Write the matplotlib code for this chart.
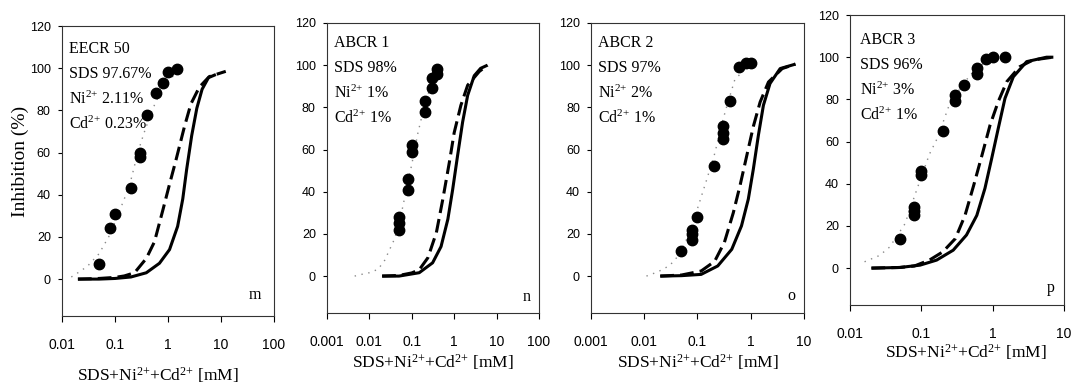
import matplotlib.pyplot as plt

plt.rcParams["font.family"] = ["Liberation Serif", "DejaVu Serif"]
plt.rcParams["mathtext.default"] = "regular"

# -----------------------------
# Data
# -----------------------------
# panel m (EECR 50)
m_pts_x = [0.05, 0.08, 0.1, 0.2, 0.3, 0.3, 0.4, 0.6, 0.8, 1.0, 1.5]
m_pts_y = [7, 24, 31, 43, 58, 60, 78, 88, 93, 98, 99.5]
m_dot_x = [0.015, 0.02, 0.03, 0.05, 0.08, 0.1, 0.15, 0.2, 0.27, 0.35, 0.5, 0.7, 1.0, 1.5]
m_dot_y = [1, 3, 6, 12, 21, 27, 38, 47, 60, 69, 80, 88, 94, 98]
m_sol_x = [0.02, 0.05, 0.1, 0.2, 0.39, 0.69, 1.07, 1.52, 1.9, 2.25, 2.8, 3.5, 4.4, 5.8, 8]
m_sol_y = [0, 0, 0.3, 1, 3, 7.5, 14, 25, 38, 52, 68, 81, 90, 95.5, 97]
m_das_x = [0.02, 0.05, 0.1, 0.15, 0.234, 0.39, 0.556, 0.8, 1.07, 1.4, 2.03, 2.7, 3.9, 6, 12.3]
m_das_y = [0, 0.3, 0.8, 1.5, 3, 9.8, 17.7, 32.7, 45, 56, 72, 83, 91, 96, 98.5]

# panel n (ABCR 1)
n_pts_x = [0.05, 0.05, 0.05, 0.08, 0.08, 0.1, 0.1, 0.2, 0.2, 0.3, 0.3, 0.4, 0.4]
n_pts_y = [22, 25, 28, 41, 46, 59, 62, 78, 83, 89, 94, 96, 98]
n_dot_x = [0.0045, 0.0065, 0.01, 0.016, 0.023, 0.04, 0.06, 0.1, 0.14, 0.2, 0.3, 0.45]
n_dot_y = [0, 0.8, 1.6, 3.2, 7.5, 18, 32, 53, 68, 81, 92, 97]
n_sol_x = [0.02, 0.05, 0.15, 0.31, 0.49, 0.71, 0.92, 1.2, 1.58, 2.08, 2.97, 4.2, 6.1]
n_sol_y = [0, 0, 1.6, 6.3, 14, 27, 41, 57, 73, 85.7, 95, 98.5, 100]
n_das_x = [0.02, 0.05, 0.1, 0.15, 0.24, 0.38, 0.54, 0.77, 1.0, 1.44, 2.08, 3.9, 6.1]
n_das_y = [0, 0.3, 1.5, 3, 8.7, 20.6, 36.5, 54, 68, 81, 90.5, 97, 100]

# panel o (ABCR 2)
o_pts_x = [0.05, 0.08, 0.08, 0.08, 0.1, 0.2, 0.3, 0.3, 0.3, 0.4, 0.6, 0.8, 1.0]
o_pts_y = [12, 17, 20, 22, 28, 52, 65, 68, 71, 83, 99, 101, 101]
o_dot_x = [0.011, 0.018, 0.03, 0.045, 0.07, 0.1, 0.15, 0.21, 0.3, 0.35, 0.5, 0.7]
o_dot_y = [0, 2, 5, 10, 20, 32, 46, 58, 74, 80, 93, 97]
o_sol_x = [0.02, 0.05, 0.117, 0.24, 0.44, 0.67, 0.9, 1.12, 1.39, 1.73, 2.3, 3.57, 6.9]
o_sol_y = [0, 0.2, 0.8, 4.8, 12.7, 23.8, 36.5, 50.8, 66.7, 81, 91.3, 98.4, 100.5]
o_das_x = [0.02, 0.05, 0.117, 0.21, 0.32, 0.47, 0.63, 0.84, 1.12, 1.5, 2.15, 3.9, 6.9]
o_das_y = [0, 0.5, 2.4, 7, 16, 30, 43, 57, 71, 82.5, 92, 98.4, 100.5]

# panel p (ABCR 3)
p_pts_x = [0.05, 0.08, 0.08, 0.08, 0.1, 0.1, 0.2, 0.3, 0.3, 0.4, 0.6, 0.6, 0.8, 1.0, 1.5]
p_pts_y = [14, 25, 27, 29, 44, 46, 65, 79, 82, 87, 92, 95, 99, 100, 100]
p_dot_x = [0.016, 0.026, 0.036, 0.059, 0.086, 0.13, 0.17, 0.25, 0.4, 0.56, 0.75]
p_dot_y = [3, 6, 10, 21, 37, 54, 62, 78, 88, 94, 97]
p_sol_x = [0.02, 0.05, 0.096, 0.164, 0.28, 0.43, 0.6, 0.78, 0.97, 1.2, 1.49, 1.95, 3.0, 5.7, 7.1]
p_sol_y = [0, 0.3, 1.4, 3.8, 8.5, 15.7, 25, 37.8, 52, 66.3, 80.5, 90.7, 97.9, 100, 100]
p_das_x = [0.02, 0.05, 0.08, 0.13, 0.2, 0.3, 0.41, 0.54, 0.71, 0.92, 1.2, 1.58, 2.4, 3.7, 7]
p_das_y = [0, 0.3, 1, 3.8, 7.7, 14, 25, 39, 53.6, 67.8, 79, 88.4, 95.5, 98.7, 100]

notes_m = ["EECR 50", "SDS 97.67%", "Ni$^{2{+}}$ 2.11%", "Cd$^{2{+}}$ 0.23%"]
notes_n = ["ABCR 1", "SDS 98%", "Ni$^{2{+}}$ 1%", "Cd$^{2{+}}$ 1%"]
notes_o = ["ABCR 2", "SDS 97%", "Ni$^{2{+}}$ 2%", "Cd$^{2{+}}$ 1%"]
notes_p = ["ABCR 3", "SDS 96%", "Ni$^{2{+}}$ 3%", "Cd$^{2{+}}$ 1%"]

xlabel = "SDS+Ni$^{2{+}}$+Cd$^{2{+}}$ [mM]"

panels = [
    # rect, xlim, data, notes, letter, note pos, letter pos, xlabel pos
    ([0.0578, 0.1918, 0.1978, 0.7417], (0.01, 100),
     (m_pts_x, m_pts_y, m_dot_x, m_dot_y, m_sol_x, m_sol_y, m_das_x, m_das_y),
     notes_m, "m", (0.035, 0.921), (0.91, 0.072), (0.45, -0.203)),
    ([0.3050, 0.1995, 0.1978, 0.7417], (0.001, 100),
     (n_pts_x, n_pts_y, n_dot_x, n_dot_y, n_sol_x, n_sol_y, n_das_x, n_das_y),
     notes_n, "n", (0.033, 0.931), (0.94, 0.056), (0.50, -0.169)),
    ([0.5513, 0.1995, 0.1987, 0.7417], (0.001, 10),
     (o_pts_x, o_pts_y, o_dot_x, o_dot_y, o_sol_x, o_sol_y, o_das_x, o_das_y),
     notes_o, "o", (0.033, 0.931), (0.94, 0.059), (0.50, -0.169)),
    ([0.7929, 0.2199, 0.1996, 0.7417], (0.01, 10),
     (p_pts_x, p_pts_y, p_dot_x, p_dot_y, p_sol_x, p_sol_y, p_das_x, p_das_y),
     notes_p, "p", (0.047, 0.914), (0.94, 0.058), (0.54, -0.162)),
]

fig = plt.figure(figsize=(10.72, 3.91), dpi=100)

for i, (rect, xlim, data, notes, letter, npos, lpos, xlpos) in enumerate(panels):
    ax = fig.add_axes(rect)
    px, py, dx, dy, sx, sy, ddx, ddy = data
    ax.plot(dx, dy, color="#8a8a8a", lw=1.0, ls=(0, (1, 4)))
    ax.plot(sx, sy, color="black", lw=2.2, solid_capstyle="butt", solid_joinstyle="round")
    ax.plot(ddx, ddy, color="black", lw=2.2, ls=(0, (4.5, 2)))
    ax.plot(px, py, "o", color="black", ms=7.5, ls="none")

    ax.set_xscale("log")
    ax.set_xlim(*xlim)
    ax.set_ylim(-17.5, 120)
    ax.set_yticks(range(0, 121, 20))
    ax.minorticks_off()
    ticks = []
    v = xlim[0]
    while v <= xlim[1] * 1.001:
        ticks.append(v)
        v *= 10
    ax.set_xticks(ticks)
    ax.set_xticklabels([f"{t:g}" for t in ticks], family="Liberation Sans")
    for lab in ax.get_yticklabels():
        lab.set_family("Liberation Sans")
    ax.tick_params(axis="x", direction="out", length=4.5, width=0.8, pad=11, labelsize=10)
    ax.tick_params(axis="y", direction="out", length=3, width=0.8, pad=5, labelsize=9)
    for s in ax.spines.values():
        s.set_color("#333333")
        s.set_linewidth(0.8)

    for j, t in enumerate(notes):
        ax.text(npos[0], npos[1] - j * 0.0862, t, transform=ax.transAxes,
                fontsize=11.5, ha="left", va="center")
    ax.text(lpos[0], lpos[1], letter, transform=ax.transAxes,
            fontsize=11.5, ha="center", va="center")
    ax.text(xlpos[0], xlpos[1], xlabel, transform=ax.transAxes,
            fontsize=12.5, ha="center", va="center")
    if i == 0:
        ax.text(-0.198, 0.534, "Inhibition (%)", transform=ax.transAxes,
                fontsize=14, rotation=90, ha="center", va="center")

fig.savefig("out.png", dpi=100)
